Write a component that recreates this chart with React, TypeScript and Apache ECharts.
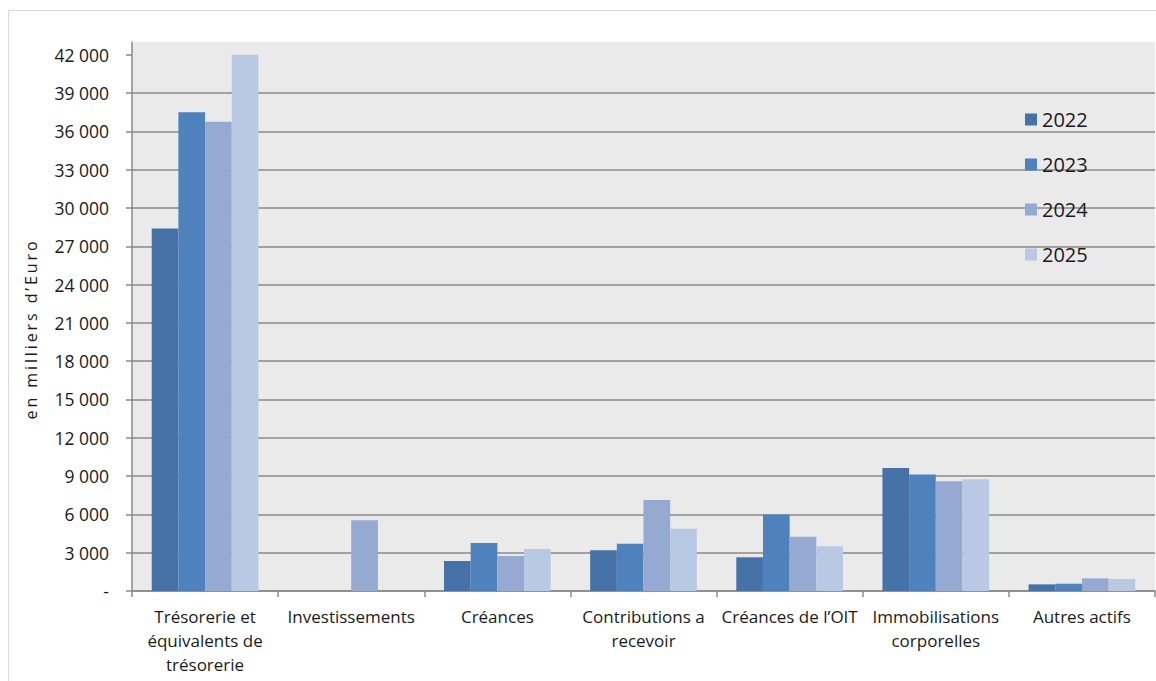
import React, { useEffect, useRef } from "react";
import * as echarts from "echarts";

const categories = [
  "Trésorerie et\néquivalents de\ntrésorerie",
  "Investissements",
  "Créances",
  "Contributions a\nrecevoir",
  "Créances de l’OIT",
  "Immobilisations\ncorporelles",
  "Autres actifs",
];

const years = ["2022", "2023", "2024", "2025"];

// en milliers d'Euro
const values2022 = [28400, 0, 2350, 3190, 2640, 9640, 520];
const values2023 = [37500, 0, 3760, 3710, 6000, 9120, 570];
const values2024 = [36750, 5550, 2740, 7130, 4250, 8590, 990];
const values2025 = [42000, 0, 3290, 4880, 3500, 8750, 940];

const yTickValues = [0, 3000, 6000, 9000, 12000, 15000, 18000, 21000, 24000, 27000, 30000, 33000, 36000, 39000, 42000];

const yAxisTitle = "en milliers d’Euro";

const seriesValues = [values2022, values2023, values2024, values2025];
const colors = ["#4672A8", "#4F81BD", "#95A9D1", "#B9C9E3"];

const FONT = "'Open Sans', 'Noto Sans', sans-serif";

function formatThousands(v: number): string {
  if (v === 0) return "-";
  return String(v).replace(/\B(?=(\d{3})+(?!\d))/g, " ");
}

export default function App() {
  const ref = useRef<HTMLDivElement>(null);

  useEffect(() => {
    if (!ref.current) return;
    const el = ref.current;
    const chart = echarts.init(el, undefined, { renderer: "svg" });

    // widen the letter spacing of the vertical axis title once rendered
    const spaceTitle = () => {
      el.querySelectorAll("text").forEach((t) => {
        if (t.textContent === yAxisTitle) {
          t.setAttribute("letter-spacing", "2.9");
        }
      });
    };
    chart.on("finished", spaceTitle);

    chart.setOption({
      animation: false,
      backgroundColor: "#ffffff",
      textStyle: { fontFamily: FONT },
      graphic: [
        {
          type: "rect",
          shape: { x: 8.5, y: 10.5, width: 1200, height: 700 },
          style: { fill: "none", stroke: "#d9d9d9", lineWidth: 1 },
          silent: true,
          z: -1,
        },
        {
          type: "text",
          x: 31,
          y: 329,
          rotation: Math.PI / 2,
          style: {
            text: yAxisTitle,
            fontSize: 16,
            fontFamily: FONT,
            fill: "#1a1a1a",
            align: "center",
            verticalAlign: "middle",
          },
        },
      ],
      legend: {
        orient: "vertical",
        left: 1020,
        top: 101,
        itemWidth: 12,
        itemHeight: 12,
        itemGap: 18,
        icon: "rect",
        textStyle: { fontSize: 20, color: "#1a1a1a", fontFamily: FONT, lineHeight: 27 },
        data: years,
      },
      grid: {
        left: 132,
        right: 1,
        top: 42,
        bottom: 90,
        show: true,
        backgroundColor: "#EAEAEA",
        borderWidth: 0,
      },
      xAxis: {
        type: "category",
        data: categories,
        axisLine: { lineStyle: { color: "#8a8a8a", width: 1.5 } },
        axisTick: { show: true, length: 6, lineStyle: { color: "#8a8a8a", width: 1.5 } },
        axisLabel: {
          interval: 0,
          margin: 13,
          fontSize: 17,
          lineHeight: 24,
          color: "#1a1a1a",
          fontFamily: FONT,
        },
      },
      yAxis: {
        type: "value",
        min: 0,
        max: 43000,
        interval: 3000,
        axisLine: { show: true, lineStyle: { color: "#8a8a8a", width: 1.5 } },
        axisTick: {
          show: true,
          length: 6,
          lineStyle: { color: "#8a8a8a", width: 1.5 },
          customValues: yTickValues,
        },
        axisLabel: {
          margin: 23,
          fontSize: 17.5,
          color: "#1a1a1a",
          fontFamily: FONT,
          customValues: yTickValues,
          formatter: (v: number) => formatThousands(v),
        },
        splitLine: {
          show: true,
          showMaxLine: false,
          lineStyle: { color: "#8a8a8a", width: 1.5 },
        },
      },
      series: years.map((y, i) => ({
        name: y,
        type: "bar",
        data: seriesValues[i],
        itemStyle: { color: colors[i] },
        barGap: "0%",
        barCategoryGap: "27%",
      })),
    });
    spaceTitle();
    return () => chart.dispose();
  }, []);

  return (
    <div style={{ position: "fixed", left: 0, top: 0, width: 1156, height: 681, background: "#fff" }}>
      <div ref={ref} style={{ width: 1156, height: 681 }} />
    </div>
  );
}
